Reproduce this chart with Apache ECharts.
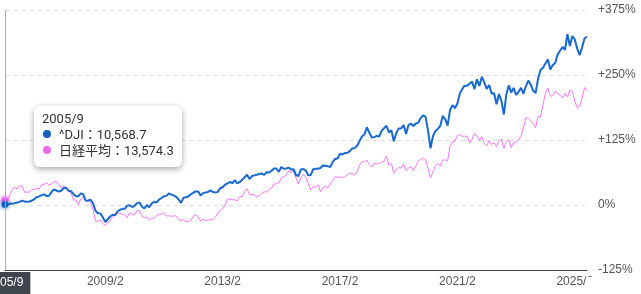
<!DOCTYPE html>
<html><head><meta charset="utf-8">
<script src="https://cdn.jsdelivr.net/npm/echarts@6/dist/echarts.min.js"></script>
<style>html,body{margin:0;padding:0;background:#fff}#c{width:641px;height:294px}</style>
</head><body><div id="c"></div>
<script>
// Monthly categories 2005/9 .. 2025/7
const startYear = 2005, startMonth = 9, monthCount = 239;
const categories = [];
for (let i = 0; i < monthCount; i++) {
  const t = startMonth - 1 + i;
  categories.push((startYear + Math.floor(t / 12)) + '/' + (t % 12 + 1));
}
// Reference levels (0%)
const djiBase = 10481.6;
const nikkeiBase = 12413.6;
const seriesNames = ['^DJI', '日経平均'];
// ^DJI month-end levels
const dji = [
  10568.7, 10440, 10806, 10718,
  10865, 10993, 11109, 11367, 11168, 11150, 11186, 11381, 11679, 12081, 12222, 12463,
  12622, 12269, 12354, 13063, 13628, 13409, 13212, 13358, 13896, 13930, 13372, 13265,
  12650, 12266, 12263, 12820, 12638, 11350, 11378, 11544, 10851, 9325, 8829, 8776,
  8001, 7063, 7609, 8168, 8500, 8447, 9172, 9496, 9712, 9713, 10345, 10428,
  10067, 10325, 10857, 11009, 10137, 9774, 10466, 10015, 10788, 11118, 11006, 11578,
  11892, 12226, 12320, 12811, 12570, 12414, 12143, 11614, 10913, 11955, 12046, 12218,
  12633, 12952, 13212, 13214, 12393, 12880, 13009, 13091, 13437, 13096, 13026, 13104,
  13861, 14054, 14579, 14840, 15116, 14910, 15500, 14810, 15130, 15546, 16086, 16577,
  15699, 16322, 16458, 16581, 16717, 16827, 16563, 17098, 17043, 17391, 17828, 17823,
  17165, 18133, 17776, 17841, 18011, 17620, 17690, 16528, 16285, 17664, 17720, 17425,
  16466, 16517, 17685, 17774, 17787, 17930, 18432, 18401, 18308, 18142, 19124, 19763,
  19864, 20812, 20663, 20941, 21009, 21350, 21891, 21948, 22405, 23377, 24272, 24719,
  26149, 25029, 24103, 24163, 24416, 24271, 25415, 25965, 26458, 25116, 25538, 23327,
  25000, 25916, 25929, 26593, 24815, 26600, 26864, 26403, 26917, 27046, 28051, 28538,
  28256, 25409, 21917, 24346, 25383, 25813, 26428, 28430, 27782, 26502, 29639, 30606,
  29983, 30932, 32982, 33875, 34529, 34503, 34935, 35361, 33844, 35820, 34484, 36338,
  35132, 33893, 34678, 32977, 32990, 30775, 32845, 31510, 28726, 32733, 34590, 33147,
  34086, 32657, 33274, 34098, 32908, 34408, 35560, 34722, 33508, 33053, 35951, 37690,
  38150, 38996, 39807, 37816, 38686, 39119, 40843, 41563, 42330, 41763, 44911, 42544,
  44545, 43841, 42002, 40669, 42270, 44095, 44400
];
// 日経平均 month-end levels
const nikkei = [
  13574.3, 13607, 14872, 16111,
  16650, 16205, 17060, 16906, 15467, 15505, 15457, 16141, 16128, 16399, 16274, 17226,
  17383, 17604, 17288, 17400, 17876, 18138, 17249, 16569, 16786, 16738, 15681, 15308,
  13592, 13603, 12526, 13850, 14339, 13481, 13377, 13073, 11260, 8577, 8512, 8860,
  7994, 7568, 8110, 8828, 9523, 9958, 10357, 10493, 10133, 10035, 9346, 10546,
  10198, 10126, 11090, 11057, 9769, 9383, 9537, 8824, 9369, 9202, 9937, 10229,
  10238, 10624, 9755, 9850, 9694, 9816, 9833, 8955, 8700, 8988, 8435, 8455,
  8803, 9723, 10084, 9521, 8543, 9007, 8695, 8840, 8870, 8928, 9446, 10395,
  11139, 11559, 12398, 13861, 13775, 13677, 13668, 13389, 14456, 14328, 15662, 16291,
  14915, 14841, 14828, 14304, 14632, 15162, 15621, 15425, 16174, 16414, 17460, 17451,
  17674, 18798, 19207, 19520, 20563, 20236, 20585, 18890, 17388, 19083, 19747, 19034,
  17518, 16027, 16759, 16666, 17235, 15576, 16569, 16887, 16450, 17425, 18308, 19114,
  19041, 19119, 18909, 19197, 19651, 20033, 19925, 19646, 20356, 22012, 22725, 22765,
  23098, 22068, 21454, 22468, 22202, 22305, 22554, 22865, 24120, 21920, 22351, 20015,
  20773, 21385, 21206, 22259, 20601, 21276, 21522, 20704, 21756, 22927, 23294, 23657,
  23205, 21143, 18917, 20194, 21878, 22288, 21710, 23140, 23185, 22977, 26434, 27444,
  27663, 28966, 29179, 28813, 28860, 28792, 27284, 28090, 29453, 28893, 27822, 28792,
  27002, 26527, 27821, 26848, 27280, 26393, 27802, 28092, 25937, 27587, 27969, 26095,
  27327, 27446, 28041, 28856, 30888, 33189, 33172, 32619, 31858, 30859, 33487, 33464,
  36287, 39166, 40369, 38406, 38488, 39583, 39102, 38648, 37920, 39081, 38208, 39895,
  39572, 37156, 35618, 36045, 37965, 40487, 39700
];
const yMin = -125, yMax = 375, yStep = 125;
const firstLabelIndex = 41, labelStep = 48;

const blue = '#1660bd', pink = '#ef6aef';
const pct = (arr, base) => arr.map(v => +((v / base - 1) * 100).toFixed(2));
const fmt = v => v.toLocaleString('en-US', {minimumFractionDigits: 1, maximumFractionDigits: 1});
const dot = c => `<span style="display:inline-block;width:8px;height:8px;border-radius:50%;background:${c};margin:0 8px 0 1px;vertical-align:1px"></span>`;

const chart = echarts.init(document.getElementById('c'), null, {renderer: 'canvas'});
chart.setOption({
  animation: false,
  grid: {left: 5, right: 54, top: 10, bottom: 24, containLabel: false, outerBoundsMode: 'none'},
  tooltip: {
    trigger: 'axis',
    triggerOn: 'none',
    alwaysShowContent: true,
    transitionDuration: 0,
    position: [34, 106],
    padding: 0,
    borderWidth: 0,
    backgroundColor: '#fff',
    extraCssText: 'box-shadow:0 2px 6px rgba(0,0,0,0.35);border-radius:6px;',
    axisPointer: {type: 'line', lineStyle: {color: '#a3adb9', width: 1, type: 'solid'}, label: {show: false}},
    formatter: params => {
      const i = params[0].dataIndex;
      return `<div style="padding:5px 8px 8px;font:13px/16px Roboto,'Noto Sans CJK JP',sans-serif;color:#333">` +
        `<div>${categories[i]}</div>` +
        `<div>${dot(blue)}${seriesNames[0]}：${fmt(dji[i])}</div>` +
        `<div>${dot(pink)}${seriesNames[1]}：${fmt(nikkei[i])}</div></div>`;
    }
  },
  xAxis: {
    type: 'category',
    data: categories,
    boundaryGap: false,
    axisLine: {onZero: false, lineStyle: {color: '#444', width: 1}},
    axisTick: {show: false},
    axisLabel: {
      color: '#555', fontSize: 12, fontFamily: 'Arial, Liberation Sans', margin: 6,
      interval: idx => idx >= firstLabelIndex && (idx - firstLabelIndex) % labelStep === 0
    },
    splitLine: {show: false}
  },
  yAxis: {
    type: 'value',
    position: 'right',
    min: yMin, max: yMax, interval: yStep,
    axisLine: {show: false},
    axisTick: {show: false},
    axisLabel: {
      color: '#555', fontSize: 12, fontFamily: 'Arial, Liberation Sans', margin: 11,
      formatter: v => (v > 0 ? '+' : '') + v + '%'
    },
    splitLine: {lineStyle: {color: '#dcdcdc', type: [4, 4], width: 1}}
  },
  series: [
    {
      name: seriesNames[1], type: 'line', data: pct(nikkei, nikkeiBase),
      showSymbol: false, symbol: 'circle', symbolSize: 7,
      lineStyle: {color: pink, width: 1}, itemStyle: {color: pink},
      emphasis: {scale: false, itemStyle: {color: pink, borderColor: 'rgba(239,106,239,0.3)', borderWidth: 5}},
      z: 2
    },
    {
      name: seriesNames[0], type: 'line', data: pct(dji, djiBase),
      showSymbol: false, symbol: 'circle', symbolSize: 7,
      lineStyle: {color: blue, width: 2}, itemStyle: {color: blue},
      emphasis: {scale: false, itemStyle: {color: blue, borderColor: 'rgba(22,96,189,0.22)', borderWidth: 5}},
      z: 3
    }
  ]
});

const px0 = chart.convertToPixel({xAxisIndex: 0}, 0);
const pyBottom = chart.convertToPixel({yAxisIndex: 0}, yMin);
const pxRight = chart.convertToPixel({xAxisIndex: 0}, monthCount - 1);
chart.setOption({
  graphic: [
    {type: 'rect', shape: {x: pxRight, y: pyBottom + 7, width: 10, height: 20}, style: {fill: '#fff'}, z: 90, silent: true},
    {type: 'text', x: px0, y: pyBottom + 2, z: 100, silent: true,
     style: {text: categories[0], fill: '#fff', fontSize: 12, fontFamily: 'Arial, Liberation Sans',
             backgroundColor: '#3e454d', padding: [5, 7, 5, 7], align: 'center', verticalAlign: 'top'}}
  ]
});
chart.dispatchAction({type: 'showTip', seriesIndex: 1, dataIndex: 0});
</script></body></html>
